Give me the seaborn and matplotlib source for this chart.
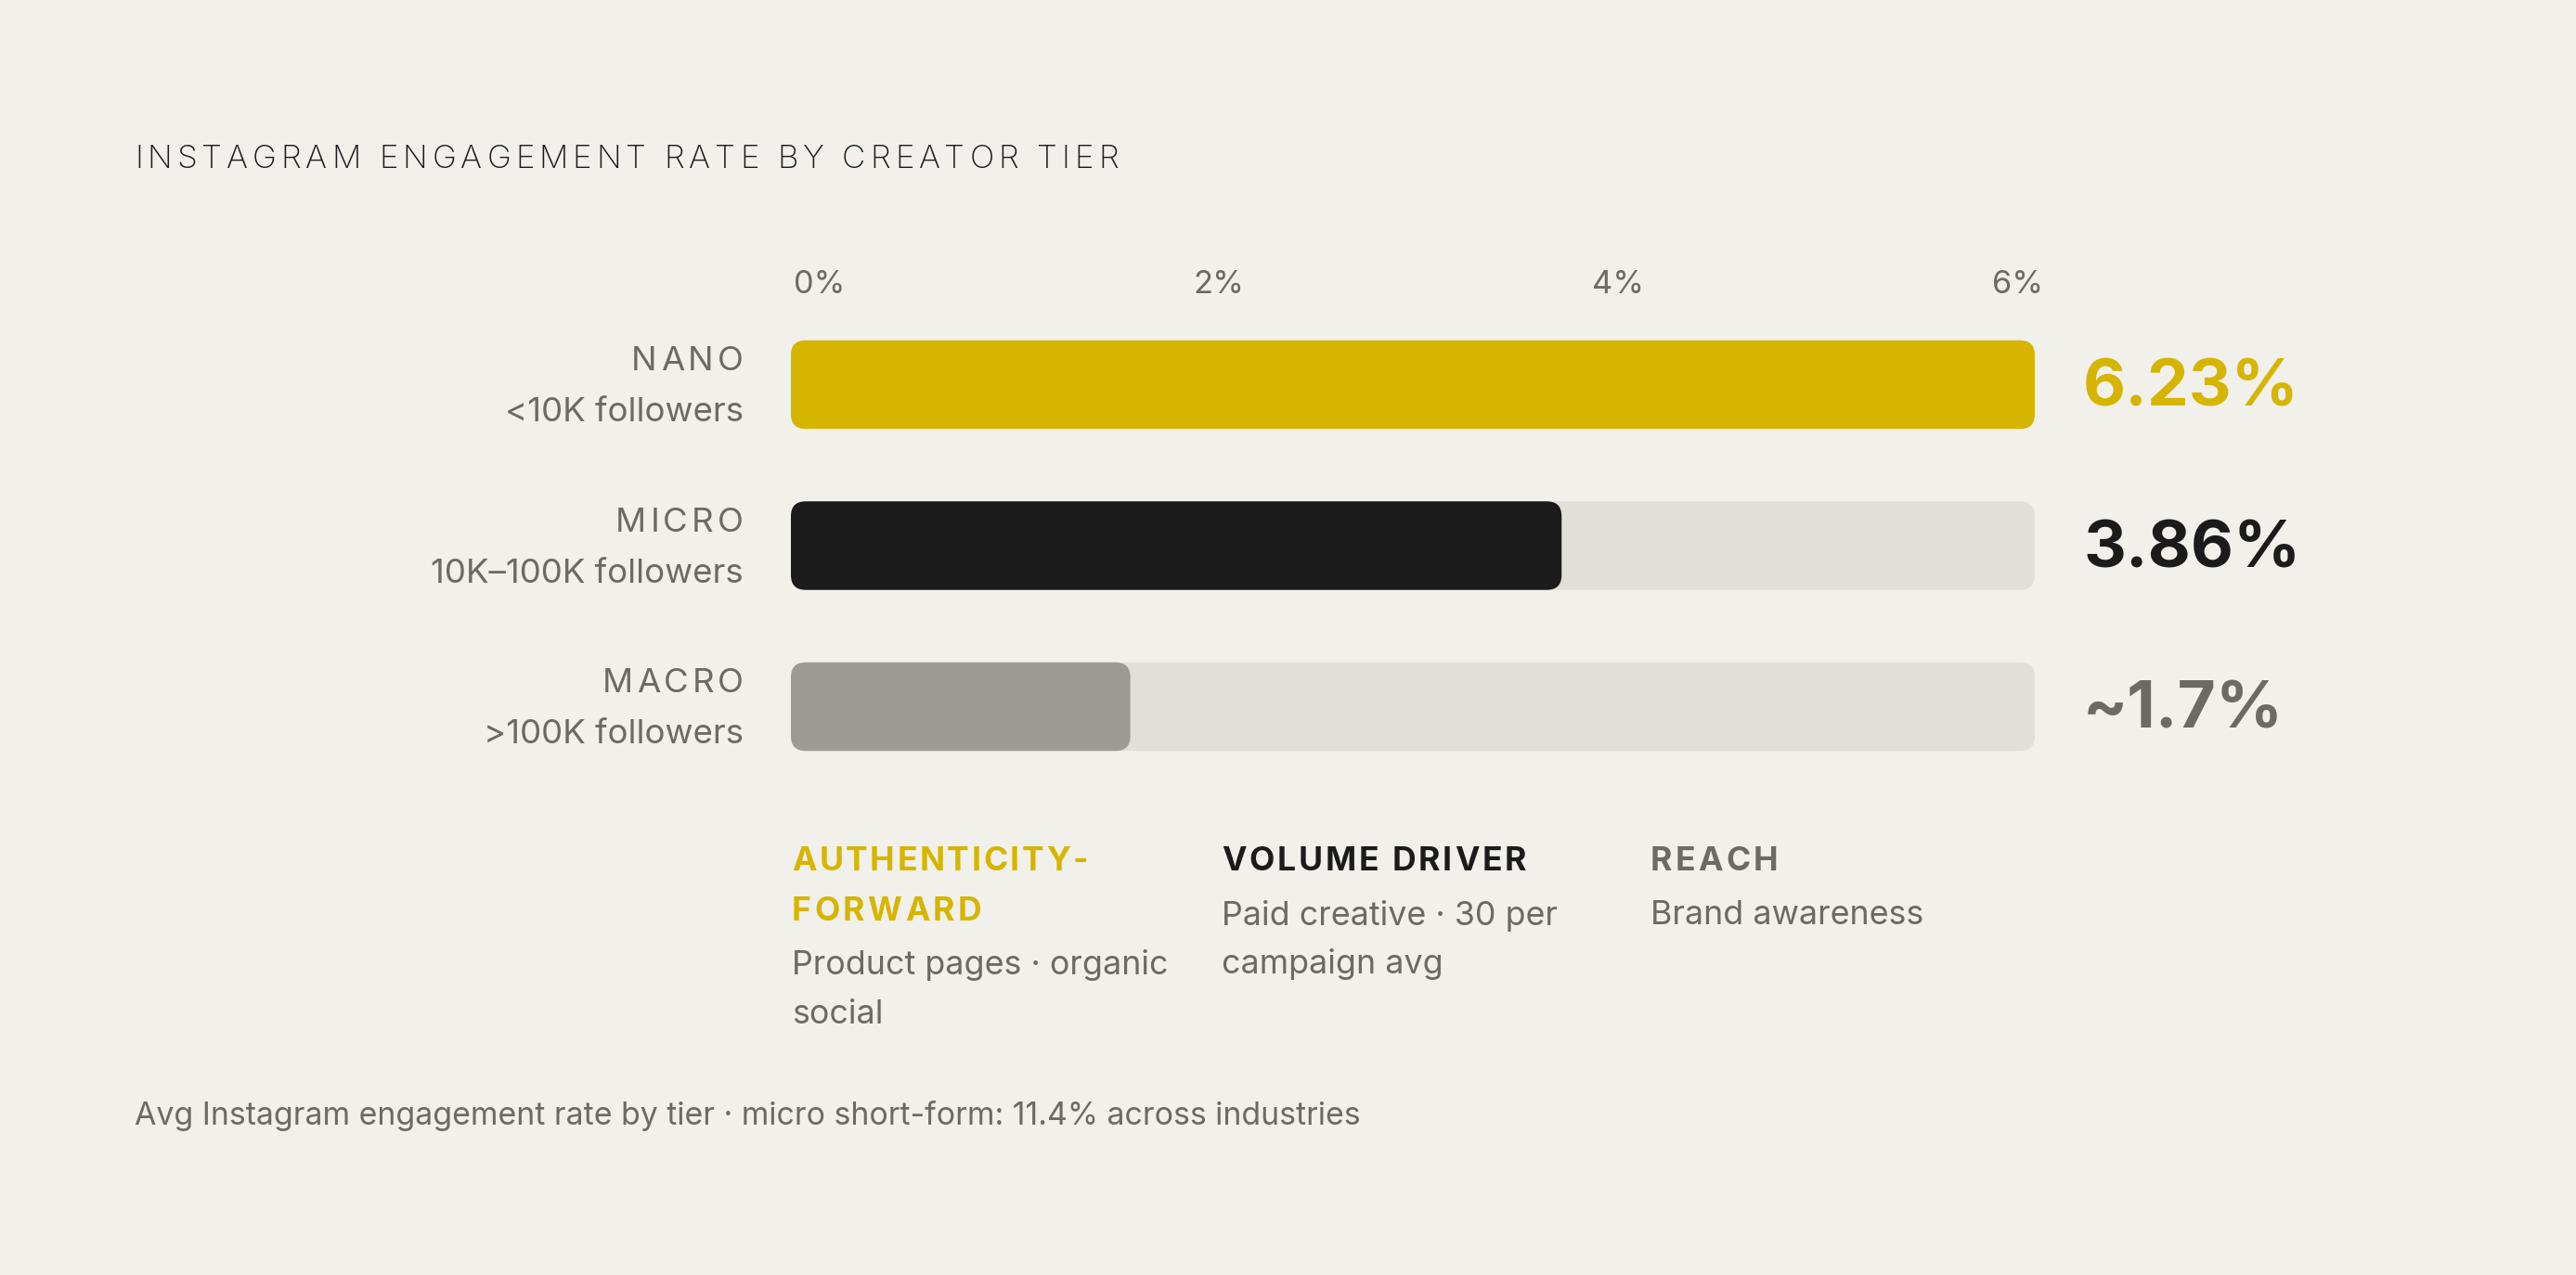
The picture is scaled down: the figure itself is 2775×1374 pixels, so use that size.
import numpy as np
import pandas as pd
import seaborn as sns
import matplotlib.pyplot as plt
import matplotlib.transforms as mtransforms
from matplotlib import font_manager
from matplotlib.ft2font import FT2Font
from matplotlib.patches import FancyBboxPatch

# data
tiers = ["NANO", "MICRO", "MACRO"]
followers = ["<10K followers", "10K\u2013100K followers", ">100K followers"]
rates = [6.23, 3.86, 1.7]
value_labels = ["6.23%", "3.86%", "~1.7%"]
tick_values = [0, 2, 4, 6]
tick_labels = ["0%", "2%", "4%", "6%"]
roles = [["AUTHENTICITY-", "FORWARD"], ["VOLUME DRIVER"], ["REACH"]]
role_notes = [["Product pages \u00b7 organic", "social"],
              ["Paid creative \u00b7 30 per", "campaign avg"],
              ["Brand awareness"]]
title = "INSTAGRAM ENGAGEMENT RATE BY CREATOR TIER"
footnote = "Avg Instagram engagement rate by tier \u00b7 micro short-form: 11.4% across industries"

BG = "#f1f0eb"
TRACK = "#e0dfd8"
GREY = "#6b6a65"
bar_colors = ["#d6b500", "#1b1b1b", "#9c9b96"]
label_colors = ["#d6b500", "#1b1b1b", GREY]

W, H, DPI = 2775, 1374, 200
sns.set_theme(style="white")
FONT = "Inter"
plt.rcParams["font.family"] = [FONT, "DejaVu Sans"]

fig = plt.figure(figsize=(W / DPI, H / DPI), dpi=DPI, facecolor=BG)
ax_l, ax_t, ax_w, ax_h = 852, 327.75, 1340, 520.5
ax = fig.add_axes([ax_l / W, 1 - (ax_t + ax_h) / H, ax_w / W, ax_h / H])
ax.set_facecolor("none")

track_max = max(rates)
df = pd.DataFrame({"tier": tiers, "rate": rates, "track": [track_max] * len(tiers)})
bar_w = 0.55
sns.barplot(data=df, x="track", y="tier", color=TRACK, saturation=1,
            width=bar_w, errorbar=None, ax=ax)
sns.barplot(data=df, x="rate", y="tier", hue="tier", palette=bar_colors,
            saturation=1, width=bar_w, errorbar=None, legend=False, ax=ax)
ax.set_xlim(0, track_max)
ax.set_ylim(len(tiers) - 0.5, -0.5)
ax.axis("off")

# rounded bars
ppx = ax_w / track_max
ppy = ax_h / len(tiers)
rad = 16 / ppx
for p in list(ax.patches):
    fb = FancyBboxPatch((p.get_x(), p.get_y()), p.get_width(), p.get_height(),
                        boxstyle=f"round,pad=0,rounding_size={rad}",
                        mutation_aspect=ppx / ppy, fc=p.get_facecolor(),
                        ec="none", zorder=p.get_zorder())
    p.remove()
    ax.add_patch(fb)


def fx(px):
    return px / W


def fy(py):
    return 1 - py / H


def spaced(x, y, s, size, weight, color, width, ha="left"):
    """letter-spaced text, stretched to a target width in px"""
    path = font_manager.findfont(font_manager.FontProperties(family=FONT, weight=weight))
    f = FT2Font(path, hinting_factor=1)
    f.set_size(size, DPI)
    adv = [f.load_char(ord(c)).linearHoriAdvance / 65536 for c in s]
    track = (width - sum(adv)) / max(len(s) - 1, 1)
    total = sum(adv) + track * (len(s) - 1)
    pen = x if ha == "left" else x - total
    for c, a in zip(s, adv):
        fig.text(fx(pen), fy(y), c, fontsize=size, fontweight=weight, color=color,
                 ha="left", va="baseline")
        pen += a + track


# title
spaced(145, 181, title, 12.6, "light", "#1c1c1c", 1060)

# ticks
tick_tr = mtransforms.blended_transform_factory(ax.transData, fig.transFigure) + \
    mtransforms.ScaledTranslation(3 / DPI, 0, fig.dpi_scale_trans)
for v, lab in zip(tick_values, tick_labels):
    ax.text(v, fy(316), lab, transform=tick_tr, fontsize=12.4, color=GREY,
            ha="left", va="baseline")

# row labels
tier_w = [121, 138, 152]
for i, (t, fol) in enumerate(zip(tiers, followers)):
    cy = H - ax.transData.transform((0, i))[1]
    spaced(801, cy - 15.5, t, 13.2, "normal", GREY, tier_w[i], ha="right")
    fig.text(fx(801), fy(cy + 39.5), fol, fontsize=13.2, color=GREY,
             ha="right", va="baseline")
    ax.text(1 + (2244 - 2192) / ax_w, i + 23 / ppy, value_labels[i],
            transform=ax.get_yaxis_transform(), fontsize=25.6, fontweight="bold",
            color=label_colors[i], ha="left", va="baseline")

# role notes under the chart
col_x = [853, 1316, 1778]
role_w = [[319, 204], [328], [137]]
for j in range(len(roles)):
    y = 938
    for k, line in enumerate(roles[j]):
        spaced(col_x[j], y, line, 12.8, "bold", label_colors[j], role_w[j][k])
        y += 53.5
    y += 5
    for line in role_notes[j]:
        fig.text(fx(col_x[j]), fy(y), line, fontsize=12.9, color=GREY,
                 ha="left", va="baseline")
        y += 53

fig.text(fx(145), fy(1212), footnote, fontsize=12.2, color=GREY,
         ha="left", va="baseline")

fig.savefig("out.png", dpi=DPI, facecolor=BG)
